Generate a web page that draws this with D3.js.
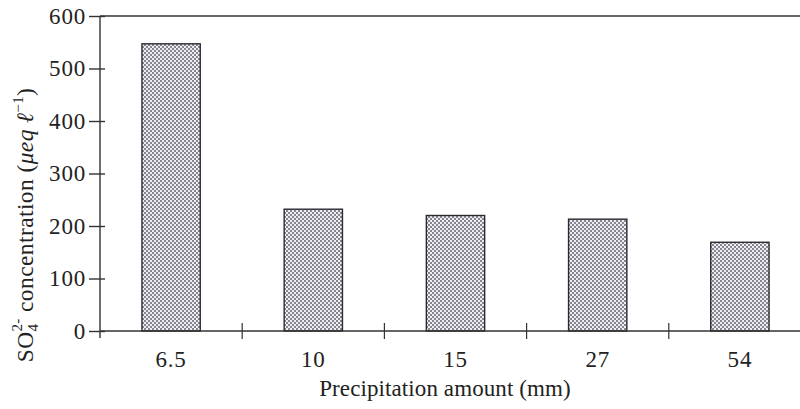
<!DOCTYPE html>
<html>
<head>
<meta charset="utf-8">
<script src="https://cdn.jsdelivr.net/npm/d3@7/dist/d3.min.js"></script>
<style>
  html, body { margin: 0; padding: 0; background: #fff; }
  svg { display: block; }
  text { font-family: "Liberation Serif", "Times New Roman", serif; fill: #222; }
</style>
</head>
<body>
<svg id="chart" width="800" height="409"></svg>
<script>
// Sulfate concentration by precipitation amount
const categories = ["6.5", "10", "15", "27", "54"];
const values = [547, 232, 220, 213, 169];
const yTicks = [0, 100, 200, 300, 400, 500, 600];

const W = 800, H = 409;
const plotLeft = 100, plotRight = 811, plotTop = 16, plotBottom = 331;
const serif = "Liberation Serif, Times New Roman, serif";

const svg = d3.select("#chart");

// Stippled fill used for the bars
const defs = svg.append("defs");
const pat = defs.append("pattern")
  .attr("id", "stipple")
  .attr("patternUnits", "userSpaceOnUse")
  .attr("width", 4).attr("height", 4);
pat.append("rect").attr("width", 4).attr("height", 4).attr("fill", "#efeff1");
pat.append("rect").attr("x", 0).attr("y", 0).attr("width", 2).attr("height", 2).attr("fill", "#858594");
pat.append("rect").attr("x", 2).attr("y", 2).attr("width", 2).attr("height", 2).attr("fill", "#858594");

const x = d3.scaleBand()
  .domain(categories)
  .range([plotLeft, plotRight])
  .paddingInner(0.59)
  .paddingOuter(0.295);

const y = d3.scaleLinear()
  .domain([0, 600])
  .range([plotBottom, plotTop]);

// Bars
svg.append("g")
  .selectAll("rect")
  .data(categories)
  .join("rect")
  .attr("x", d => x(d))
  .attr("y", (d, i) => y(values[i]))
  .attr("width", x.bandwidth())
  .attr("height", (d, i) => y(0) - y(values[i]))
  .attr("fill", "url(#stipple)")
  .attr("stroke", "#2a2a30")
  .attr("stroke-width", 1.4);

// Frame: top rule, left axis line, baseline
const frame = svg.append("g").attr("stroke", "#333").attr("stroke-width", 1.4);
frame.append("line").attr("x1", plotLeft).attr("x2", W).attr("y1", plotTop).attr("y2", plotTop);
frame.append("line").attr("x1", plotLeft).attr("x2", plotLeft).attr("y1", plotTop).attr("y2", plotBottom + 7);
frame.append("line").attr("x1", plotLeft).attr("x2", W).attr("y1", plotBottom).attr("y2", plotBottom);

// Y axis ticks and labels
const yAxis = svg.append("g")
  .attr("transform", `translate(${plotLeft},0)`)
  .call(d3.axisLeft(y).tickValues(yTicks).tickSizeInner(11).tickSizeOuter(0).tickPadding(3));
yAxis.select(".domain").remove();
yAxis.selectAll(".tick line").attr("x1", 5).attr("stroke", "#333").attr("stroke-width", 1.4);
yAxis.selectAll(".tick text")
  .attr("font-size", 23)
  .attr("letter-spacing", 0.8)
  .attr("font-family", serif)
  .attr("fill", "#222");

// X axis labels
const xAxis = svg.append("g")
  .attr("transform", `translate(0,${plotBottom})`)
  .call(d3.axisBottom(x).tickSize(0).tickPadding(20));
xAxis.select(".domain").remove();
xAxis.selectAll(".tick text")
  .attr("font-size", 23)
  .attr("letter-spacing", 0.8)
  .attr("font-family", serif)
  .attr("fill", "#222");

// Category separators on the baseline
const seps = categories.slice(1).map((c, i) => (x(categories[i]) + x.bandwidth() + x(c)) / 2);
svg.append("g")
  .selectAll("line")
  .data(seps)
  .join("line")
  .attr("x1", d => d).attr("x2", d => d)
  .attr("y1", plotBottom - 8).attr("y2", plotBottom + 8)
  .attr("stroke", "#333").attr("stroke-width", 1.2);

// Axis titles
svg.append("text")
  .attr("x", 445).attr("y", 396)
  .attr("text-anchor", "middle")
  .attr("font-size", 23)
  .attr("letter-spacing", 0.1)
  .text("Precipitation amount (mm)");

const yt = svg.append("text")
  .attr("transform", "translate(33,225) rotate(-90)")
  .attr("text-anchor", "middle")
  .attr("font-size", 23.5)
  .attr("letter-spacing", 0.4);
yt.append("tspan").text("SO");
yt.append("tspan").attr("font-size", 15).attr("dy", 5).text("4");
yt.append("tspan").attr("font-size", 15).attr("dx", -8).attr("dy", -16).text("2-");
yt.append("tspan").attr("dy", 11).text(" concentration (");
yt.append("tspan").attr("font-style", "italic").text("μeq ℓ");
yt.append("tspan").attr("font-size", 15).attr("dy", -10).text("−1");
yt.append("tspan").attr("dy", 10).text(")");
</script>
</body>
</html>
